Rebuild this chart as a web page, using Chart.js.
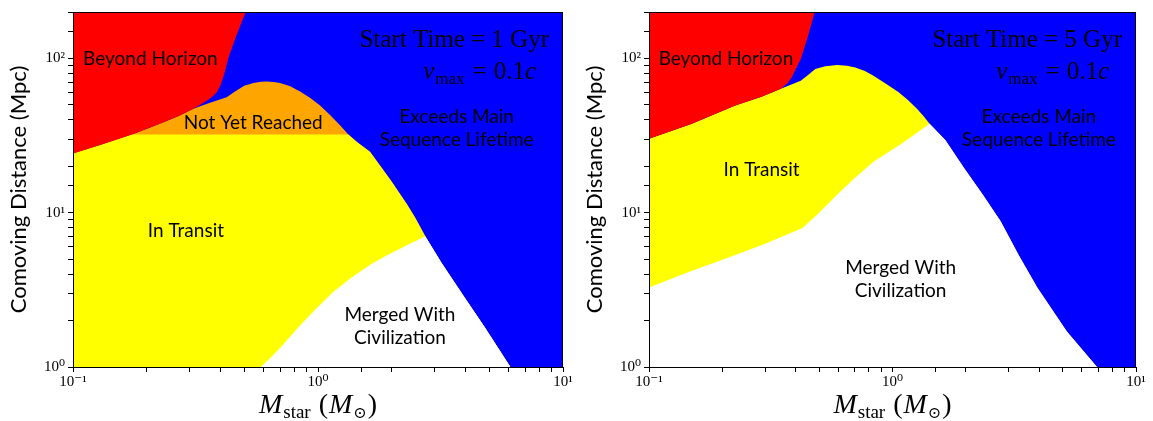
<!DOCTYPE html>
<html>
<head>
<meta charset="utf-8">
<script src="https://cdn.jsdelivr.net/npm/chart.js@4.4.1/dist/chart.umd.min.js"></script>
<style>
    html, body { margin: 0; padding: 0; background: #fff; }
    #wrap { position: relative; width: 1153px; height: 421px; }
    .panel { position: absolute; top: 0; height: 421px; }
    #left { left: 0; width: 576px; }
    #right { left: 576px; width: 577px; }
</style>
</head>
<body>
<div id="wrap">
    <div class="panel" id="left"><canvas id="cLeft" width="576" height="421"></canvas></div>
    <div class="panel" id="right"><canvas id="cRight" width="577" height="421"></canvas></div>
</div>
<script>

    // boundaries, [stellar mass (Msun), comoving distance (Mpc)]

    // left panel : start time 1 Gyr
    const leftHorizonLow = [[0.1, 24.2], [0.13, 27.6], [0.174, 32.1], [0.226, 37.8], [0.27, 42.3], [0.31, 47.2]]
    const leftHorizonEdge = [[0.34, 51.5], [0.365, 55.5], [0.385, 60], [0.40, 67], [0.415, 80], [0.43, 100],
        [0.46, 135], [0.49, 175], [0.507, 200]]
    const leftReachTop = [[0.36, 51.5], [0.424, 56.1], [0.455, 60.5], [0.50, 66.5], [0.545, 69.4], [0.585, 70.6],
        [0.618, 70.8], [0.66, 70.4], [0.70, 69.4], [0.77, 66], [0.845, 61], [0.93, 55.5], [1.02, 49.6],
        [1.12, 43], [1.23, 36.9], [1.33, 32.1]]
    const leftReachFloor = 32.1
    const leftLifetimeEdge = [[1.45, 28.5], [1.63, 24.8], [1.8, 20], [2.0, 15.9], [2.31, 11.3], [2.5, 9.2],
        [2.74, 7.04], [3.2, 4.7], [3.88, 2.97], [4.8, 1.8], [6.1, 1]]
    const leftMergeFront = [[0.583, 1], [0.64, 1.15], [0.706, 1.35], [0.83, 1.8], [0.966, 2.32], [1.15, 3.05],
        [1.37, 3.8], [1.65, 4.65], [1.94, 5.37], [2.35, 6.25], [2.74, 7.04]]

    // right panel : start time 5 Gyr
    const rightHorizonLow = [[0.1, 30.2], [0.15, 37.8], [0.226, 49.6], [0.29, 56.5], [0.348, 63.5]]
    const rightHorizonEdge = [[0.37, 69], [0.386, 75.5], [0.40, 85], [0.42, 99], [0.45, 140], [0.479, 200]]
    const rightTransitTop = [[0.42, 71.8], [0.45, 78], [0.482, 85.4], [0.53, 89], [0.592, 90.6], [0.65, 89.8],
        [0.703, 87.5], [0.77, 83], [0.835, 77.3], [0.94, 68.5], [1.06, 60.4], [1.16, 53.5], [1.26, 47.2],
        [1.34, 42.3], [1.42, 37.8]]
    const rightLifetimeEdge = [[1.65, 29.5], [1.97, 19.4], [2.35, 13.1], [2.78, 8.8], [3.3, 5.3], [3.93, 3.27],
        [5.2, 1.7], [6.92, 1]]
    const rightMergeFront = [[0.1, 3.27], [0.15, 4.2], [0.211, 5.11], [0.3, 6.3], [0.427, 7.97], [0.5, 10],
        [0.592, 13.1], [0.7, 16.8], [0.835, 21.4], [1.1, 28.3], [1.42, 37.8]]

    const massRange = [0.1, 10]
    const distRange = [1, 200]

    // region labels: [text, mass, distance]
    const leftLabels = [
        ["Beyond Horizon", 0.207, 99],
        ["Not Yet Reached", 0.544, 38.4],
        ["In Transit", 0.289, 7.66],
        ["Exceeds Main", 3.68, 42.1],
        ["Sequence Lifetime", 3.68, 29.5],
        ["Merged With", 2.16, 2.18],
        ["Civilization", 2.16, 1.54]
    ]
    const rightLabels = [
        ["Beyond Horizon", 0.207, 99],
        ["In Transit", 0.290, 18.9],
        ["Exceeds Main", 3.99, 42.1],
        ["Sequence Lifetime", 3.99, 29.5],
        ["Merged With", 1.08, 4.40],
        ["Civilization", 1.08, 3.11]
    ]
    const startTimes = ["1", "5"]

    const RED = "#ff0000", BLUE = "#0000ff", ORANGE = "#ffa500", YELLOW = "#ffff00", WHITE = "#ffffff"
    const SERIF = "'Liberation Serif', 'DejaVu Serif', serif"
    const SANS = "Lato, 'Open Sans', sans-serif"

    const pts = arr => arr.map(p => ({x: p[0], y: p[1]}))

    function region(data, color, fill, order) {
        return {
            data: pts(data), fill: fill, order: order,
            backgroundColor: color, borderWidth: 0, pointRadius: 0, tension: 0
        }
    }

    const supDigits = {"-": "\u207B", "0": "\u2070", "1": "\u00B9", "2": "\u00B2", "3": "\u00B3"}
    function powLabel(v) {
        const e = Math.log10(v)
        if (Math.abs(e - Math.round(e)) > 1e-6) return ""
        return "10" + String(Math.round(e)).split("").map(c => supDigits[c]).join("")
    }

    function drawRich(ctx, parts, x, y, align) {
        let total = 0
        parts.forEach(p => { ctx.font = p.font; total += ctx.measureText(p.t).width + (p.gap || 0) })
        let cx = align === "right" ? x - total : align === "center" ? x - total / 2 : x
        ctx.textAlign = "left"
        ctx.textBaseline = "alphabetic"
        parts.forEach(p => {
            ctx.font = p.font
            ctx.fillText(p.t, cx, y + (p.dy || 0))
            cx += ctx.measureText(p.t).width + (p.gap || 0)
        })
    }

    const annotate = {
        id: "annotate",
        afterDatasetsDraw(chart) {
            const {ctx, chartArea: a, scales} = chart
            const o = chart.options.plugins.annotate
            ctx.save()
            ctx.fillStyle = "#000"
            ctx.font = "19px " + SANS
            ctx.textAlign = "center"
            ctx.textBaseline = "middle"
            o.labels.forEach(l => {
                ctx.fillText(l[0], scales.x.getPixelForValue(l[1]), scales.y.getPixelForValue(l[2]))
            })
            // frame
            ctx.strokeStyle = "#000"
            ctx.lineWidth = 1
            ctx.strokeRect(a.left + 0.5, a.top + 0.5, a.right - a.left - 1, a.bottom - a.top)
            // corner notes
            const big = "25px " + SERIF, bigI = "italic 25px " + SERIF, sub = "17px " + SERIF
            drawRich(ctx, [{t: "Start Time = " + o.start + " Gyr", font: big}], a.right - 14, a.top + 35, "right")
            drawRich(ctx, [{t: "v", font: bigI, gap: 1}, {t: "max", font: sub, dy: 5, gap: 8}, {t: "=", font: big, gap: 7},
                {t: "0.1", font: big}, {t: "c", font: bigI}], a.right - 27, a.top + 67, "right")
            // x axis title
            const mid = (a.left + a.right) / 2
            drawRich(ctx, [{t: "M", font: "italic 28px " + SERIF, gap: 1}, {t: "star", font: "19px " + SERIF, dy: 5, gap: 8},
                {t: "(", font: "28px " + SERIF, gap: 1}, {t: "M", font: "italic 28px " + SERIF, gap: 1},
                {t: "\u2299", font: "16px " + SERIF, dy: 5, gap: 1}, {t: ")", font: "28px " + SERIF}], mid, 413, "center")
            ctx.restore()
        }
    }

    function makeChart(id, datasets, labels, start, padRight) {
        return new Chart(document.getElementById(id), {
            type: "line",
            data: {datasets: datasets},
            plugins: [annotate],
            options: {
                responsive: false,
                animation: false,
                layout: {padding: {top: 8, right: padRight, left: 0, bottom: 0}},
                plugins: {
                    legend: {display: false},
                    tooltip: {enabled: false},
                    annotate: {labels: labels, start: start}
                },
                scales: {
                    x: {
                        type: "logarithmic", min: massRange[0], max: massRange[1],
                        grid: {drawOnChartArea: false, tickLength: 5, tickColor: "#000"},
                        border: {color: "#000", width: 1},
                        ticks: {
                            autoSkip: false, maxRotation: 0, padding: 1, color: "#000",
                            font: {family: SERIF, size: 15}, callback: v => powLabel(v)
                        },
                        afterFit: s => { s.height = 54 }
                    },
                    y: {
                        type: "logarithmic", min: distRange[0], max: distRange[1],
                        grid: {drawOnChartArea: false, tickLength: 5, tickColor: "#000"},
                        border: {color: "#000", width: 1},
                        ticks: {
                            autoSkip: false, padding: 3, color: "#000",
                            font: {family: SERIF, size: 15}, callback: v => powLabel(v)
                        },
                        title: {
                            display: true, text: "Comoving Distance (Mpc)", color: "#000",
                            font: {family: SANS, size: 22}, padding: {top: 6, bottom: 0}
                        },
                        afterFit: s => { s.width = 73 }
                    }
                }
            }
        })
    }

    const sky = [[massRange[0], distRange[1]], [massRange[1], distRange[1]]]

    makeChart("cLeft", [
        region(sky, BLUE, "start", 9),
        region(leftHorizonLow.concat(leftReachTop, leftLifetimeEdge), ORANGE, "start", 8),
        region(leftHorizonLow.slice(0, 3).concat([[1.33, leftReachFloor]], leftLifetimeEdge), YELLOW, "start", 7),
        region(leftMergeFront.concat(leftLifetimeEdge.filter(p => p[0] > 2.74)), WHITE, "start", 6),
        region(leftHorizonLow.concat(leftHorizonEdge), RED, "end", 5)
    ], leftLabels, startTimes[0], 13)

    makeChart("cRight", [
        region(sky, BLUE, "start", 9),
        region(rightHorizonLow.concat(rightTransitTop, rightLifetimeEdge), YELLOW, "start", 7),
        region(rightMergeFront.concat(rightLifetimeEdge), WHITE, "start", 6),
        region(rightHorizonLow.concat(rightHorizonEdge), RED, "end", 5)
    ], rightLabels, startTimes[1], 17)

</script>
</body>
</html>
